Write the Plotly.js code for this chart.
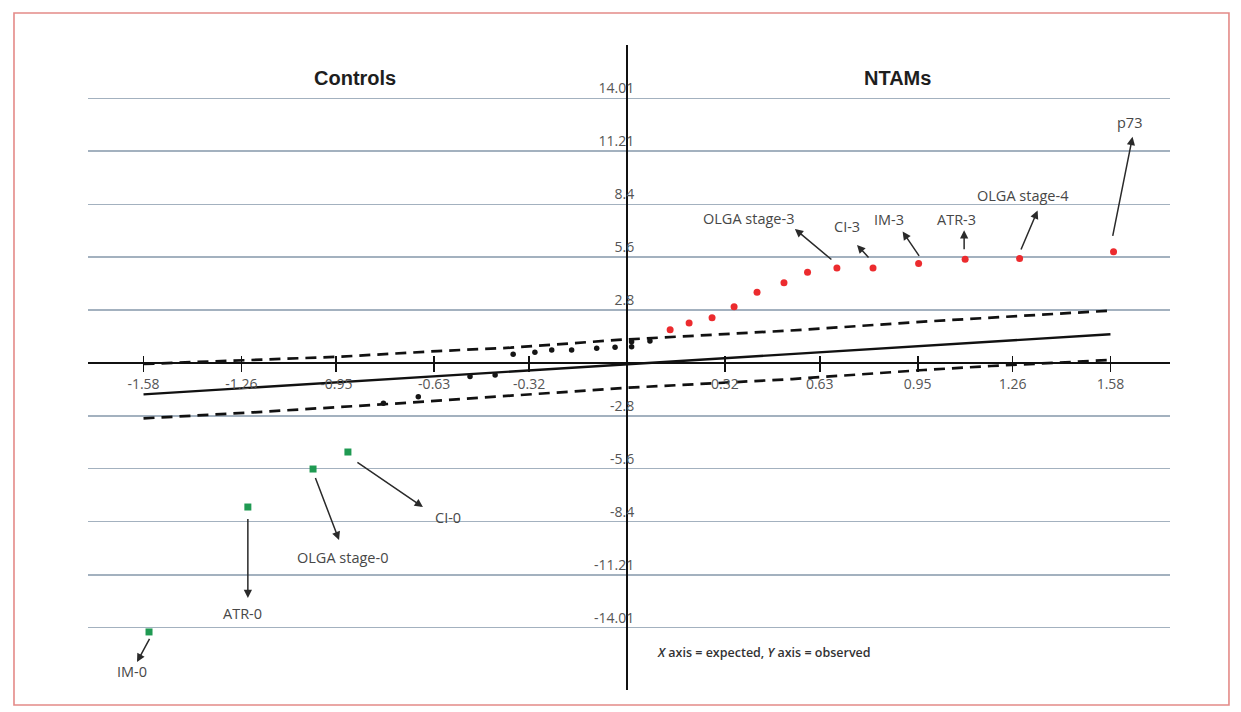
<!DOCTYPE html>
<html>
<head>
<meta charset="utf-8">
<script src="https://cdn.plot.ly/plotly-3.0.1.min.js"></script>
<style>
  html, body { margin: 0; padding: 0; background: #ffffff; }
  #chart { width: 1241px; height: 712px; }
</style>
</head>
<body>
<div id="chart"></div>
<script>
// ---------------- DATA ----------------
var xTickVals = [-1.58, -1.26, -0.95, -0.63, -0.32, 0.32, 0.63, 0.95, 1.26, 1.58];
var xTickText = ['-1.58', '-1.26', '-0.95', '-0.63', '-0.32', '0.32', '0.63', '0.95', '1.26', '1.58'];
var yTickVals = [14.01, 11.21, 8.4, 5.6, 2.8, -2.8, -5.6, -8.4, -11.21, -14.01];
var yTickText = ['14.01', '11.21', '8.4', '5.6', '2.8', '-2.8', '-5.6', '-8.4', '-11.21', '-14.01'];

// expected (identity) line
var expectedX = [-1.58, 1.58];
var expectedY = [-1.66, 1.52];

// upper / lower confidence band (dashed)
var upperX = [-1.58, -1.22, -0.94, -0.62, -0.38, -0.03, 0.15, 0.57, 0.97, 1.29, 1.58];
var upperY = [-0.05, 0.16, 0.33, 0.63, 0.81, 1.22, 1.39, 1.75, 2.19, 2.49, 2.77];
var lowerX = [-1.58, -1.22, -0.78, -0.38, 0.0, 0.24, 0.54, 0.97, 1.19, 1.58];
var lowerY = [-2.93, -2.61, -2.17, -1.72, -1.31, -1.11, -0.85, -0.37, -0.16, 0.16];

// other (black) observed points
var otherX = [-0.796, -0.682, -0.513, -0.431, -0.372, -0.301, -0.246, -0.181, -0.099, -0.039, 0.015, 0.015, 0.075];
var otherY = [-2.13, -1.78, -0.72, -0.63, 0.46, 0.57, 0.69, 0.69, 0.78, 0.83, 0.86, 1.13, 1.16];

// NTAMs (red)
var ntamX = [0.141, 0.203, 0.278, 0.350, 0.425, 0.513, 0.590, 0.686, 0.804, 0.953, 1.105, 1.283, 1.590];
var ntamY = [1.76, 2.12, 2.39, 2.97, 3.74, 4.25, 4.80, 5.03, 5.03, 5.26, 5.49, 5.53, 5.88];
var ntamLabels = ['OLGA stage-3', 'CI-3', 'IM-3', 'ATR-3', 'OLGA stage-4', 'p73'];
var ntamLabelIdx = [7, 8, 9, 10, 11, 12];

// Controls (green)
var ctrlX = [-0.912, -1.026, -1.239, -1.562];
var ctrlY = [-4.71, -5.61, -7.62, -14.23];
var ctrlLabels = ['CI-0', 'OLGA stage-0', 'ATR-0', 'IM-0'];
var ctrlLabelIdx = [0, 1, 2, 3];

var groupTitles = ['Controls', 'NTAMs'];
var noteText = '<i>X</i> axis = expected, <i>Y</i> axis = observed';

// ---------------- LAYOUT HELPERS (pixel offsets of label arrows / texts) ----------------
// head: arrow head offset from point (px, +down); tail: arrow tail offset from point; text: label centre offset
var ntamCallout = [
  {head: [-42, -39], tail: [-5, -8],  text: [-88, -49]},
  {head: [-16, -23], tail: [-4, -10], text: [-26, -41]},
  {head: [-16, -32], tail: [1, -7],   text: [-30, -44]},
  {head: [-1, -29],  tail: [-1, -9],  text: [-9, -40]},
  {head: [18, -48],  tail: [1, -8],   text: [3, -63]},
  {head: [19, -115], tail: [-1, -15], text: [16, -129]}
];
var ctrlCallout = [
  {head: [75, 55],  tail: [9, 10],  text: [100, 65]},
  {head: [26, 71],  tail: [2, 8],   text: [29, 88]},
  {head: [0, 91],   tail: [0, 11],  text: [-5, 106]},
  {head: [-12, 30], tail: [1, 6],   text: [-17, 40]}
];

var labelFont = {family: 'Open Sans, sans-serif', size: 14.5, color: '#474747'};
var arrowColor = '#2a2a2a';

var annotations = [];
function addCallouts(xs, ys, labels, idx, callouts) {
  for (var i = 0; i < labels.length; i++) {
    var px = xs[idx[i]], py = ys[idx[i]], c = callouts[i];
    annotations.push({
      x: px, y: py, xref: 'x', yref: 'y',
      xshift: c.head[0], yshift: -c.head[1],
      ax: c.tail[0] - c.head[0], ay: c.tail[1] - c.head[1],
      text: ' ', font: {size: 1}, borderpad: 0,
      showarrow: true, arrowhead: 2, arrowsize: 1.1, arrowwidth: 1.5, arrowcolor: arrowColor
    });
    annotations.push({
      x: px, y: py, xref: 'x', yref: 'y',
      xshift: c.text[0], yshift: -c.text[1],
      text: labels[i], showarrow: false, font: labelFont,
      xanchor: 'center', yanchor: 'middle'
    });
  }
}
addCallouts(ntamX, ntamY, ntamLabels, ntamLabelIdx, ntamCallout);
addCallouts(ctrlX, ctrlY, ctrlLabels, ctrlLabelIdx, ctrlCallout);

var titleFont = {family: 'Liberation Sans, Arial, sans-serif', size: 20, color: '#1e1e1e', weight: 'bold'};
annotations.push({xref: 'paper', yref: 'paper', x: 0.2468, y: 0.9488, text: '<b>' + groupTitles[0] + '</b>',
  showarrow: false, font: titleFont, xanchor: 'center', yanchor: 'middle'});
annotations.push({xref: 'paper', yref: 'paper', x: 0.7486, y: 0.9488, text: '<b>' + groupTitles[1] + '</b>',
  showarrow: false, font: titleFont, xanchor: 'center', yanchor: 'middle'});
annotations.push({xref: 'paper', yref: 'paper', x: 0.524, y: 0.0589, text: noteText,
  showarrow: false, font: {family: 'Open Sans, sans-serif', size: 12.5, color: '#333333', weight: 600},
  xanchor: 'left', yanchor: 'middle'});

var xRange = [-1.7614, 1.7745];
var yRange = [-17.302, 16.825];

var traces = [
  {x: upperX, y: upperY, mode: 'lines', type: 'scatter', hoverinfo: 'skip',
   line: {color: '#111111', width: 2.7, dash: '11px,7px'}},
  {x: lowerX, y: lowerY, mode: 'lines', type: 'scatter', hoverinfo: 'skip',
   line: {color: '#111111', width: 2.7, dash: '11px,7px'}},
  {x: expectedX, y: expectedY, mode: 'lines', type: 'scatter',
   line: {color: '#111111', width: 2.4}},
  {x: otherX, y: otherY, mode: 'markers', type: 'scatter',
   marker: {color: '#151515', size: 5.5}},
  {x: ntamX, y: ntamY, mode: 'markers', type: 'scatter',
   marker: {color: '#ec2b2e', size: 7}},
  {x: ctrlX, y: ctrlY, mode: 'markers', type: 'scatter',
   marker: {color: '#1f9a52', size: 7, symbol: 'square'}},
  {x: [], y: [], xaxis: 'x2', yaxis: 'y', type: 'scatter', mode: 'markers', showlegend: false}
];

var tickFont = {family: 'Open Sans, sans-serif', size: 14, color: '#555555'};

var layout = {
  width: 1241, height: 712,
  margin: {l: 88, r: 71, t: 45, b: 22},
  paper_bgcolor: '#ffffff', plot_bgcolor: '#ffffff',
  showlegend: false,
  xaxis: {
    range: xRange, anchor: 'free', position: 0.50699,
    tickvals: xTickVals, ticktext: xTickText,
    ticks: 'outside', ticklen: 8, tickwidth: 1.6, tickcolor: '#111111',
    showgrid: false, zeroline: true, zerolinecolor: '#111111', zerolinewidth: 2.2,
    showline: false, tickfont: tickFont, fixedrange: true
  },
  xaxis2: {
    range: xRange, overlaying: 'x', anchor: 'free', position: 0.50699, side: 'bottom',
    tickvals: xTickVals, showticklabels: false,
    ticks: 'inside', ticklen: 7, tickwidth: 1.6, tickcolor: '#111111',
    showgrid: false, zeroline: false, showline: false
  },
  yaxis: {
    range: yRange, anchor: 'free', position: 0.5048,
    tickvals: yTickVals, ticktext: yTickText,
    ticks: '', showgrid: true, gridcolor: '#a3b1bf', gridwidth: 1.3,
    zeroline: true, zerolinecolor: '#111111', zerolinewidth: 2.2,
    showline: false, tickfont: tickFont, ticklabelshift: -10, fixedrange: true
  },
  shapes: [
    {type: 'rect', xref: 'paper', yref: 'paper', x0: -0.0684, x1: 1.0545, y0: -0.0233, y1: 1.0496,
     line: {color: '#e48a88', width: 1.6}, fillcolor: 'rgba(0,0,0,0)'}
  ],
  annotations: annotations
};

Plotly.newPlot('chart', traces, layout, {displayModeBar: false, staticPlot: true});
</script>
</body>
</html>
